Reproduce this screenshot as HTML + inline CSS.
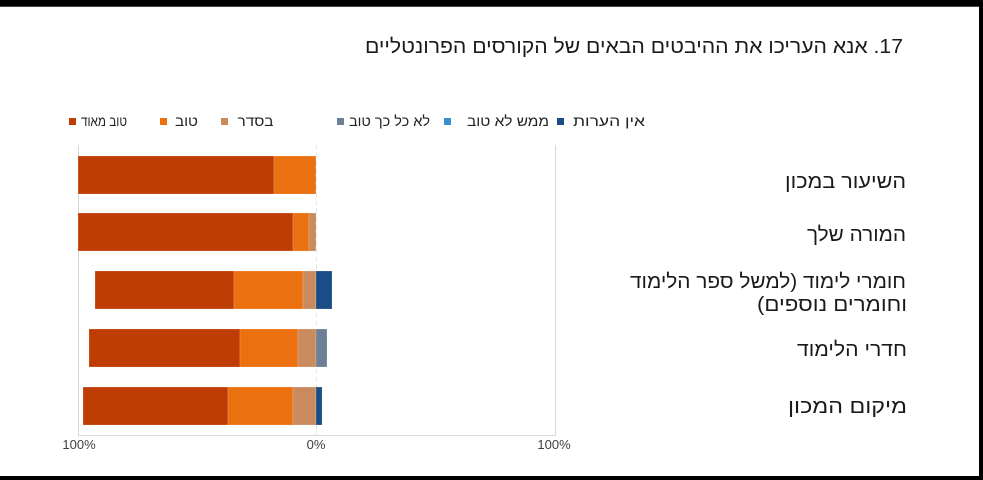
<!DOCTYPE html>
<html>
<head>
<meta charset="utf-8">
<style>
html,body{margin:0;padding:0;background:#fff;}
svg{display:block;}
text{font-family:"Liberation Sans","DejaVu Sans",sans-serif;}
</style>
</head>
<body>
<svg width="983" height="480" viewBox="0 0 983 480" xmlns="http://www.w3.org/2000/svg">
<rect x="0" y="0" width="983" height="480" fill="#fff"/>
<!-- frame -->
<rect x="0" y="0" width="983" height="6" fill="#000"/>
<rect x="0" y="6" width="983" height="1" fill="#444"/>
<rect x="979" y="0" width="4" height="480" fill="#000"/>
<rect x="0" y="476" width="983" height="4" fill="#000"/>

<!-- title -->
<text x="634" y="53" font-size="20" fill="#1a1a1a" text-anchor="middle" direction="rtl" style="direction:rtl;unicode-bidi:embed" textLength="538" lengthAdjust="spacingAndGlyphs">17. אנא העריכו את ההיבטים הבאים של הקורסים הפרונטליים</text>

<!-- legend -->
<rect x="69" y="118" width="7" height="7" fill="#BF3D03"/>
<text x="104" y="126" font-size="14" fill="#222" text-anchor="middle" style="direction:rtl;unicode-bidi:embed" textLength="46" lengthAdjust="spacingAndGlyphs">טוב מאוד</text>
<rect x="160" y="118" width="7" height="7" fill="#EB7110"/>
<text x="186.5" y="126" font-size="14" fill="#222" text-anchor="middle" style="direction:rtl;unicode-bidi:embed" textLength="23" lengthAdjust="spacingAndGlyphs">טוב</text>
<rect x="221" y="118" width="7" height="7" fill="#C98B5E"/>
<text x="255.5" y="126" font-size="14" fill="#222" text-anchor="middle" style="direction:rtl;unicode-bidi:embed" textLength="36" lengthAdjust="spacingAndGlyphs">בסדר</text>
<rect x="337" y="118" width="7" height="7" fill="#6E8098"/>
<text x="389.5" y="126" font-size="14" fill="#222" text-anchor="middle" style="direction:rtl;unicode-bidi:embed" textLength="81" lengthAdjust="spacingAndGlyphs">לא כל כך טוב</text>
<rect x="444" y="118" width="7" height="7" fill="#3A8FCD"/>
<text x="508" y="126" font-size="14" fill="#222" text-anchor="middle" style="direction:rtl;unicode-bidi:embed" textLength="82" lengthAdjust="spacingAndGlyphs">ממש לא טוב</text>
<rect x="557" y="118" width="7" height="7" fill="#1A4C88"/>
<text x="609" y="126" font-size="14" fill="#222" text-anchor="middle" style="direction:rtl;unicode-bidi:embed" textLength="72" lengthAdjust="spacingAndGlyphs">אין הערות</text>

<!-- grid / axes -->
<line x1="78.5" y1="145" x2="78.5" y2="435" stroke="#d9d9d9" stroke-width="1"/>
<line x1="555.5" y1="145" x2="555.5" y2="435" stroke="#d9d9d9" stroke-width="1"/>
<line x1="316.5" y1="145" x2="316.5" y2="435" stroke="#e3e3e3" stroke-width="1" stroke-dasharray="4,4"/>
<line x1="78" y1="435.5" x2="556" y2="435.5" stroke="#d9d9d9" stroke-width="1"/>

<!-- bars -->
<g stroke="#ffffff" stroke-opacity="0.35" stroke-width="0.5">
<!-- bar 1 -->
<rect x="78" y="156" width="196" height="38" fill="#BF3D03"/>
<rect x="274" y="156" width="42" height="38" fill="#EB7110"/>
<!-- bar 2 -->
<rect x="78" y="213" width="215" height="38" fill="#BF3D03"/>
<rect x="293" y="213" width="16" height="38" fill="#EB7110"/>
<rect x="309" y="213" width="7" height="38" fill="#C98B5E"/>
<!-- bar 3 -->
<rect x="95" y="271" width="139" height="38" fill="#BF3D03"/>
<rect x="234" y="271" width="69" height="38" fill="#EB7110"/>
<rect x="303" y="271" width="13" height="38" fill="#C98B5E"/>
<rect x="316" y="271" width="16" height="38" fill="#1A4C88"/>
<!-- bar 4 -->
<rect x="89" y="329" width="151" height="38" fill="#BF3D03"/>
<rect x="240" y="329" width="58" height="38" fill="#EB7110"/>
<rect x="298" y="329" width="18" height="38" fill="#C98B5E"/>
<rect x="316" y="329" width="11" height="38" fill="#6E8098"/>
<!-- bar 5 -->
<rect x="83" y="387" width="145" height="38" fill="#BF3D03"/>
<rect x="228" y="387" width="65" height="38" fill="#EB7110"/>
<rect x="293" y="387" width="23" height="38" fill="#C98B5E"/>
<rect x="316" y="387" width="6" height="38" fill="#1A4C88"/>
</g>

<!-- axis labels -->
<text x="79" y="449" font-size="13" fill="#404040" text-anchor="middle">100%</text>
<text x="316" y="449" font-size="13" fill="#404040" text-anchor="middle">0%</text>
<text x="554" y="449" font-size="13" fill="#404040" text-anchor="middle">100%</text>

<!-- category labels -->
<text x="845.5" y="188" font-size="20" fill="#1a1a1a" text-anchor="middle" style="direction:rtl;unicode-bidi:embed" textLength="121" lengthAdjust="spacingAndGlyphs">השיעור במכון</text>
<text x="856.5" y="241" font-size="20" fill="#1a1a1a" text-anchor="middle" style="direction:rtl;unicode-bidi:embed" textLength="99" lengthAdjust="spacingAndGlyphs">המורה שלך</text>
<text x="768" y="288" font-size="20" fill="#1a1a1a" text-anchor="middle" style="direction:rtl;unicode-bidi:embed" textLength="276" lengthAdjust="spacingAndGlyphs">חומרי לימוד (למשל ספר הלימוד</text>
<text x="832" y="311" font-size="20" fill="#1a1a1a" text-anchor="middle" style="direction:rtl;unicode-bidi:embed" textLength="150" lengthAdjust="spacingAndGlyphs">וחומרים נוספים)</text>
<text x="852" y="356" font-size="20" fill="#1a1a1a" text-anchor="middle" style="direction:rtl;unicode-bidi:embed" textLength="110" lengthAdjust="spacingAndGlyphs">חדרי הלימוד</text>
<text x="847.5" y="413" font-size="20" fill="#1a1a1a" text-anchor="middle" style="direction:rtl;unicode-bidi:embed" textLength="119" lengthAdjust="spacingAndGlyphs">מיקום המכון</text>
</svg>
</body>
</html>
